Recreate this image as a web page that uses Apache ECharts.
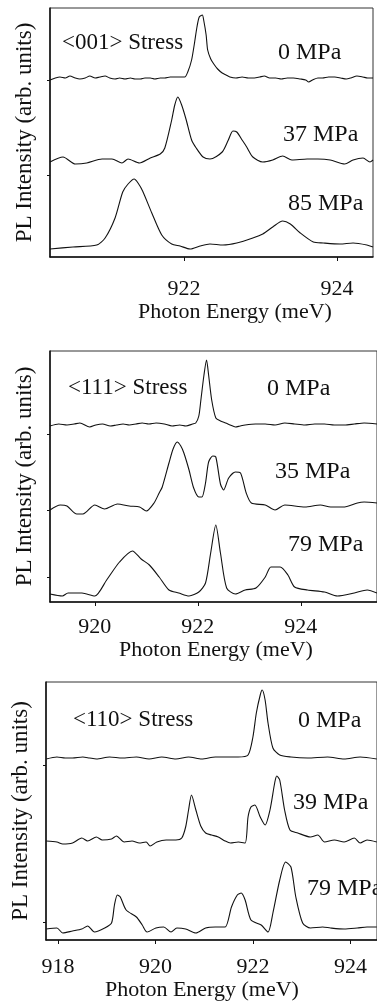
<!DOCTYPE html>
<html><head><meta charset="utf-8">
<script src="https://cdn.jsdelivr.net/npm/echarts@6.0.0/dist/echarts.min.js"></script>
<style>html,body{margin:0;padding:0;background:#fff}#c{width:377px;height:1008px}</style>
</head><body><div id="c"></div>
<script>
// ---- Panel <001> : [photon energy (meV), PL intensity (arb. units, offset traces)]
const s001_0MPa = [[920.25,177],[920.32,179],[920.38,180],[920.45,179],[920.51,181],[920.58,179],[920.64,178],[920.71,179],[920.77,181],[920.84,179],[920.90,180],[920.97,181],[921.03,179],[921.10,178],[921.16,179],[921.23,178],[921.30,179],[921.36,178],[921.43,178],[921.49,179],[921.56,179],[921.62,178],[921.69,179],[921.75,179],[921.82,180],[921.88,180],[921.95,180],[922.01,180],[922.05,185],[922.10,197],[922.14,215],[922.17,230],[922.20,240],[922.24,242],[922.26,236],[922.29,222],[922.31,207],[922.35,198],[922.39,193],[922.44,188],[922.50,184],[922.55,182],[922.60,180],[922.68,179],[922.76,180],[922.84,179],[922.92,179],[922.99,180],[923.05,181],[923.12,179],[923.20,179],[923.27,178],[923.35,179],[923.43,179],[923.52,178],[923.59,177],[923.63,175],[923.68,177],[923.75,179],[923.81,179],[923.89,180],[923.97,180],[924.05,179],[924.12,178],[924.18,179],[924.26,181],[924.34,180],[924.40,179],[924.47,179]];
const s001_37MPa = [[920.25,95],[920.42,100],[920.58,93],[920.73,94],[920.93,98],[921.06,98],[921.19,94],[921.27,98],[921.42,94],[921.56,99],[921.69,103],[921.75,109],[921.84,137],[921.88,152],[921.92,160],[921.97,152],[922.03,137],[922.10,117],[922.16,109],[922.25,100],[922.34,98],[922.50,105],[922.58,117],[922.64,126],[922.69,125],[922.76,117],[922.82,110],[922.90,100],[923.03,95],[923.16,97],[923.29,101],[923.41,97],[923.61,98],[923.75,98],[923.91,97],[924.10,93],[924.21,97],[924.34,99],[924.43,95],[924.47,97]];
const s001_85MPa = [[920.25,8],[920.55,10],[920.86,12],[920.97,19],[921.10,39],[921.20,65],[921.27,73],[921.35,78],[921.40,74],[921.46,66],[921.58,44],[921.71,22],[921.84,13],[921.95,11],[922.08,8],[922.21,11],[922.34,13],[922.51,12],[922.69,14],[922.90,19],[923.03,23],[923.16,30],[923.29,36],[923.39,33],[923.52,24],[923.69,15],[923.82,14],[924.04,13],[924.21,14],[924.39,12],[924.47,10]];

// ---- Panel <111>
const s111_0MPa = [[919.13,176],[919.30,178],[919.46,177],[919.60,178],[919.71,179],[919.90,175],[920.02,177],[920.15,178],[920.30,176],[920.42,177],[920.55,178],[920.67,177],[920.80,178],[920.92,179],[921.05,178],[921.19,179],[921.35,178],[921.50,176],[921.65,177],[921.77,176],[921.90,178],[921.96,179],[922.02,186],[922.06,202],[922.12,227],[922.17,242],[922.21,227],[922.27,202],[922.35,184],[922.44,181],[922.54,179],[922.63,177],[922.73,175],[922.82,176],[922.92,177],[923.12,178],[923.31,178],[923.50,177],[923.69,179],[923.88,178],[924.08,177],[924.27,178],[924.46,178],[924.65,177],[924.85,177],[925.04,178],[925.23,179],[925.48,178]];
const s111_35MPa = [[919.13,92],[919.33,97],[919.46,96],[919.65,88],[919.77,88],[920.00,97],[920.19,93],[920.44,98],[920.67,96],[920.87,95],[921.00,91],[921.15,99],[921.25,109],[921.31,115],[921.44,139],[921.52,153],[921.60,160],[921.67,156],[921.73,149],[921.83,132],[921.92,114],[922.02,105],[922.08,105],[922.15,119],[922.21,140],[922.29,146],[922.35,145],[922.44,118],[922.50,112],[922.60,124],[922.73,130],[922.83,129],[922.94,109],[923.04,99],[923.31,97],[923.50,92],[923.69,97],[924.08,95],[924.38,97],[924.58,95],[924.85,95],[925.10,99],[925.23,100],[925.48,99]];
const s111_79MPa = [[919.13,8],[919.37,6],[919.48,9],[919.75,9],[920.00,6],[920.23,22],[920.48,40],[920.73,51],[920.90,43],[921.06,37],[921.25,25],[921.44,12],[921.63,9],[921.83,6],[922.02,10],[922.15,19],[922.25,49],[922.35,77],[922.44,49],[922.56,14],[922.73,8],[922.92,12],[923.13,14],[923.31,25],[923.42,35],[923.60,35],[923.75,27],[923.88,15],[924.13,12],[924.46,10],[924.71,6],[925.04,9],[925.29,12],[925.48,9]];

// ---- Panel <110>
const s110_0MPa = [[917.76,181],[917.98,183],[918.15,182],[918.30,182],[918.51,183],[918.65,182],[918.79,181],[919.06,183],[919.32,182],[919.61,183],[919.87,181],[920.13,183],[920.42,181],[920.68,183],[920.95,181],[921.23,183],[921.50,183],[921.70,183],[921.90,185],[922.00,203],[922.07,227],[922.15,245],[922.19,250],[922.25,240],[922.31,217],[922.41,192],[922.55,185],[922.78,183],[923.12,182],[923.53,183],[923.87,181],[924.20,183],[924.54,181]];
const s110_39MPa = [[917.76,99],[917.98,98],[918.10,96],[918.30,97],[918.49,102],[918.61,99],[918.79,103],[918.91,100],[919.10,101],[919.20,104],[919.36,98],[919.52,99],[919.67,97],[919.81,98],[919.89,94],[920.03,98],[920.22,100],[920.42,100],[920.54,102],[920.62,113],[920.68,130],[920.74,145],[920.83,130],[920.93,114],[921.03,107],[921.15,105],[921.29,103],[921.43,99],[921.54,97],[921.70,98],[921.84,97],[921.90,123],[921.96,133],[922.04,135],[922.15,123],[922.25,115],[922.35,130],[922.45,158],[922.49,164],[922.55,160],[922.65,130],[922.76,110],[922.92,107],[923.18,103],[923.33,105],[923.47,98],[923.67,100],[923.87,98],[924.08,102],[924.20,97],[924.34,100],[924.54,98]];
const s110_79MPa = [[917.76,11],[917.98,12],[918.10,7],[918.30,9],[918.49,11],[918.61,14],[918.75,8],[918.96,12],[919.10,17],[919.16,35],[919.22,45],[919.28,43],[919.40,30],[919.61,23],[919.73,15],[919.83,8],[920.01,12],[920.17,13],[920.32,8],[920.44,12],[920.62,11],[920.83,7],[921.03,12],[921.23,13],[921.43,13],[921.56,33],[921.68,45],[921.76,47],[921.84,40],[921.96,20],[922.17,15],[922.31,8],[922.41,27],[922.55,60],[922.67,78],[922.78,73],[922.88,43],[923.02,17],[923.18,12],[923.43,13],[923.59,12],[923.87,11],[924.14,12],[924.34,13],[924.54,13]];

// ---- Tick labels and annotations
const ticks001 = [922, 924];
const ticks111 = [920, 922, 924];
const ticks110 = [918, 920, 922, 924];
const yTicks001 = [82, 177];
const yTicks111 = [25, 92, 168];
const yTicks110 = [18, 175];
const stress001 = '<001> Stress', stress111 = '<111> Stress', stress110 = '<110> Stress';
const labels001 = ['0 MPa', '37 MPa', '85 MPa'];
const labels111 = ['0 MPa', '35 MPa', '79 MPa'];
const labels110 = ['0 MPa', '39 MPa', '79 MPa'];

const FONT = '"Liberation Serif", "Times New Roman", serif';
const INK = '#111';

function xAx(i, min, max, ticks, margin, gap, pad) {
  return {
    type: 'value', gridIndex: i, min: min, max: max,
    axisLine: {show: true, onZero: false, lineStyle: {color: INK, width: 1.5}},
    axisTick: {show: true, customValues: ticks, length: 4, lineStyle: {color: INK, width: 1}},
    axisLabel: {customValues: ticks, fontFamily: FONT, fontSize: 22, color: INK, margin: margin},
    splitLine: {show: false},
    name: 'Photon Energy (meV)', nameLocation: 'middle', nameGap: gap,
    nameTextStyle: {fontFamily: FONT, fontSize: 22, color: INK, padding: pad}
  };
}
function yAx(i, max, ticks) {
  return {
    type: 'value', gridIndex: i, min: 0, max: max,
    axisLine: {show: true, lineStyle: {color: INK, width: 1.5}},
    axisTick: {show: true, customValues: ticks, length: 3, lineStyle: {color: INK}},
    axisLabel: {show: false},
    splitLine: {show: false},
    name: 'PL Intensity (arb. units)', nameLocation: 'middle', nameGap: 14,
    nameTextStyle: {fontFamily: FONT, fontSize: 23, color: INK}
  };
}
function line(data, i) {
  return {type: 'line', data: data, xAxisIndex: i, yAxisIndex: i, showSymbol: false,
    smooth: 0.25, lineStyle: {color: INK, width: 1.1}, silent: true};
}
function txt(t, x, y, size) {
  return {type: 'text', x: x, y: y, silent: true,
    style: {text: t, font: size + 'px ' + FONT, fill: INK, verticalAlign: 'middle'}};
}

const chart = echarts.init(document.getElementById('c'), null, {renderer: 'canvas'});
chart.setOption({
  animation: false,
  backgroundColor: '#fff',
  grid: [
    {left: 50, right: 4, top: 8, bottom: 751, show: true, borderColor: '#333', borderWidth: 1},
    {left: 50, right: -3, top: 351, bottom: 406, show: true, borderColor: '#333', borderWidth: 1},
    {left: 46, right: -3, top: 682, bottom: 68, show: true, borderColor: '#333', borderWidth: 1}
  ],
  xAxis: [
    xAx(0, 920.25, 924.47, ticks001, 21, 42, [0, 0, 0, 47]),
    xAx(1, 919.13, 925.48, ticks111, 14, 36, [0, 0, 0, 5]),
    xAx(2, 917.756, 924.545, ticks110, 16, 34, [0, 19, 0, 0])
  ],
  yAxis: [yAx(0, 249, yTicks001), yAx(1, 251, yTicks111), yAx(2, 258, yTicks110)],
  series: [
    line(s001_0MPa, 0), line(s001_37MPa, 0), line(s001_85MPa, 0),
    line(s111_0MPa, 1), line(s111_35MPa, 1), line(s111_79MPa, 1),
    line(s110_0MPa, 2), line(s110_39MPa, 2), line(s110_79MPa, 2)
  ],
  graphic: [
    txt(stress001, 62, 43, 23), txt(labels001[0], 278, 53, 24), txt(labels001[1], 283, 135, 24), txt(labels001[2], 288, 204, 24),
    txt(stress111, 68, 388, 23), txt(labels111[0], 267, 389, 24), txt(labels111[1], 275, 472, 24), txt(labels111[2], 288, 545, 24),
    txt(stress110, 73, 720, 23), txt(labels110[0], 298, 721, 24), txt(labels110[1], 293, 803, 24), txt(labels110[2], 307, 889, 24)
  ]
});
</script>
</body></html>
